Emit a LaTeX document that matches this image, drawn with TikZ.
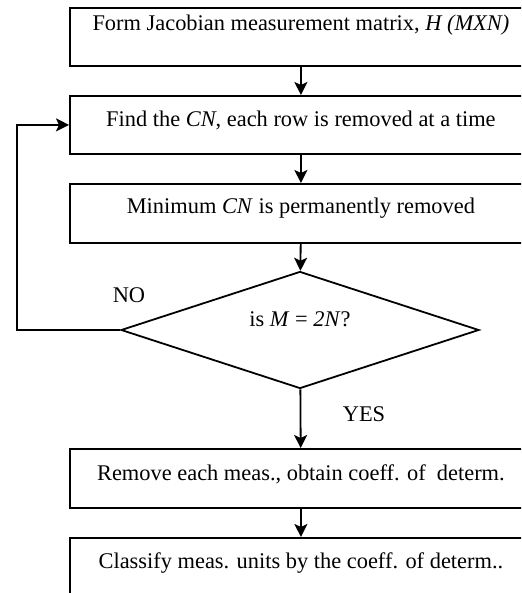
\documentclass[tikz,border=0pt]{standalone}
\usepackage{fontspec}
\setmainfont{Liberation Serif}
\usetikzlibrary{shapes.geometric,arrows.meta}

\begin{document}
\begin{tikzpicture}[x=1pt,y=-1pt,line width=1.8pt,font=\fontsize{22.4}{27}\selectfont,
box/.style={draw,rectangle,minimum width=462pt,inner xsep=0pt,inner ysep=0pt,anchor=north west},
test/.style={draw,diamond,aspect=3,minimum width=358pt,minimum height=117pt,inner sep=0pt,text height=15pt,text depth=23pt},
arr/.style={-{Stealth[length=13pt,width=13pt,inset=3pt]}}]
\useasboundingbox (0,0) rectangle (521,593);
\clip (0,0) rectangle (521,593);
\node[box,text height=23pt,text depth=35pt] (form) at (69,7) {Form Jacobian measurement matrix, \textit{H (MXN)}};
\node[box,text height=31pt,text depth=27pt] (find) at (69,95) {Find the \textit{CN}, each row is removed at a time};
\node[box,text height=30pt,text depth=29pt] (minr) at (69,183) {Minimum \textit{CN} is permanently removed};
\node[test] (chk) at (300,330) {is \textit{M} = \textit{2N}?};
\node[box,text height=32pt,text depth=27pt] (remv) at (69,448) {Remove each meas., obtain coeff. of\ \ determ.};
\node[box,text height=31pt,text depth=40pt] (clas) at (69,537) {Classify meas. units by the coeff. of determ..};
\node[anchor=base] (no) at (129,302) {NO};
\node[anchor=base] (yes) at (364,421) {YES};
\coordinate (lp) at (17,0);
\draw[arr] (form) -- (find);
\draw[arr] (find) -- (minr);
\draw[arr] (minr) -- (chk);
\draw[arr] (chk) -- (remv);
\draw[arr] (remv) -- (clas);
\draw[arr] (chk.west) -- (chk.west -| lp) |- (find.west);
\end{tikzpicture}
\end{document}
